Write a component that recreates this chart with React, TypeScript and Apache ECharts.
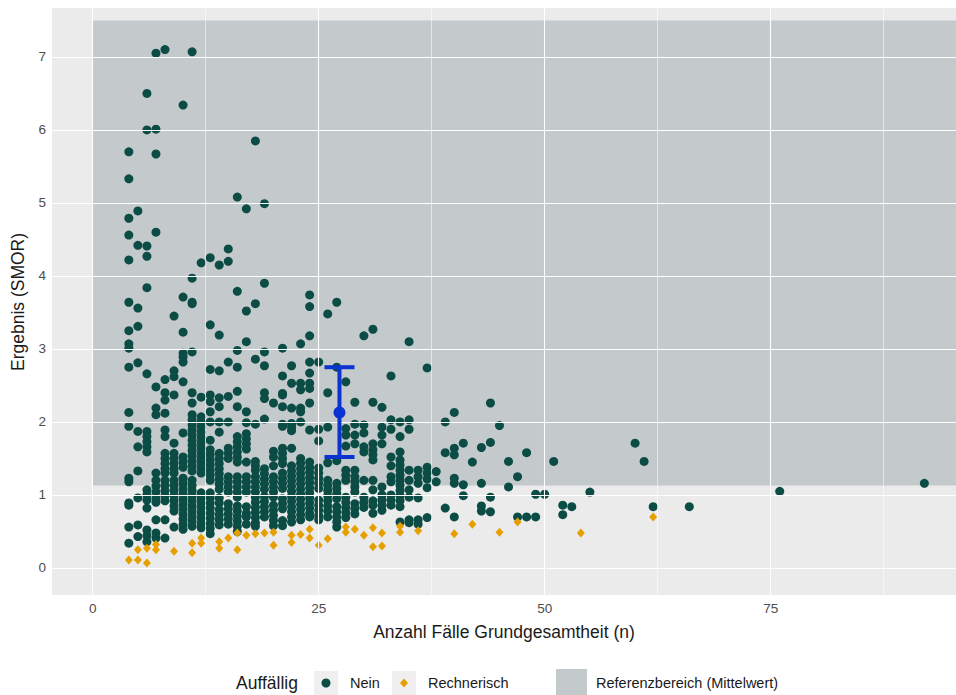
import React, { useEffect, useRef } from "react";
import * as echarts from "echarts";

// ---------- data ----------
const xTickValues = [0, 25, 50, 75];
const xGridMajor = [0, 25, 50, 75];
const xGridMinor = [12.5, 37.5, 62.5, 87.5];
const yTickValues = [0, 1, 2, 3, 4, 5, 6, 7];

// reference band (Referenzbereich): x from..to, y from..to
const refX = [0, 95.5];
const refY = [1.13, 7.5];

// mean with interval: [n, mean, lower, upper]
const meanInterval = [27.3, 2.13, 1.52, 2.75];

// "Nein" points, grouped by n (Anzahl Fälle)
const neinA: [number, number[]][] = [
  [4, [5.7, 5.33, 4.79, 4.56, 4.22, 3.64, 3.25, 3.07, 3.01, 2.75, 2.13, 1.94, 1.23, 1.18, 0.89, 0.86, 0.56, 0.34]],
  [5, [4.89, 4.42, 3.56, 3.31, 2.81, 1.87, 1.66, 1.33, 0.96, 0.59, 0.43]],
  [6, [6.5, 6.0, 4.41, 4.27, 3.84, 2.66, 1.87, 1.8, 1.73, 1.66, 1.59, 1.07, 1.0, 0.93, 0.82, 0.52, 0.44, 0.36]],
  [7, [7.05, 6.01, 5.67, 4.6, 2.48, 2.19, 2.1, 1.3, 1.2, 1.12, 1.04, 0.96, 0.9, 0.66, 0.48, 0.41]],
  [8, [7.1, 2.58, 2.4, 2.3, 2.12, 1.89, 1.8, 1.57, 1.5, 1.43, 1.36, 1.3, 1.2, 1.13, 1.06, 0.99, 0.92, 0.66, 0.41]],
  [9, [3.45, 2.7, 2.62, 2.37, 1.71, 1.57, 1.5, 1.43, 1.36, 1.3, 1.2, 1.13, 1.06, 0.99, 0.92, 0.85, 0.78, 0.56]],
  [10, [6.34, 3.71, 3.23, 2.94, 2.89, 2.82, 2.55, 1.85, 1.52, 1.45, 1.38, 1.23, 1.16, 1.09, 1.02, 0.95, 0.88, 0.81, 0.74, 0.67, 0.6, 0.53]],
  [11, [7.07, 3.97, 3.64, 3.62, 2.96, 2.4, 2.26, 2.1, 2.03, 1.96, 1.89, 1.82, 1.75, 1.68, 1.61, 1.54, 1.47, 1.4, 1.33, 1.2, 1.13, 1.06, 0.99, 0.92, 0.85, 0.78, 0.71, 0.64, 0.57]],
  [12, [4.18, 2.34, 2.07, 2.0, 1.93, 1.86, 1.79, 1.72, 1.65, 1.58, 1.51, 1.44, 1.37, 1.3, 1.03, 0.96, 0.89, 0.82, 0.75, 0.68, 0.61, 0.55]],
];
const neinB: [number, number[]][] = [
  [13, [4.25, 3.33, 2.72, 2.37, 2.28, 2.14, 2.0, 1.75, 1.62, 1.55, 1.48, 1.41, 1.34, 1.27, 1.2, 1.03, 0.96, 0.89, 0.82, 0.75, 0.68, 0.61, 0.54, 0.47]],
  [14, [4.15, 3.19, 2.7, 2.33, 2.21, 2.0, 1.86, 1.57, 1.5, 1.43, 1.36, 1.29, 1.22, 1.15, 1.08, 0.96, 0.89, 0.8, 0.73, 0.66, 0.59]],
  [15, [4.37, 4.2, 2.82, 2.35, 2.0, 1.64, 1.57, 1.5, 1.25, 1.18, 1.11, 1.04, 0.88, 0.81, 0.74, 0.67, 0.6]],
  [16, [5.08, 3.79, 2.98, 2.75, 2.42, 2.21, 1.8, 1.73, 1.66, 1.59, 1.52, 1.45, 1.25, 1.18, 1.11, 1.04, 0.97, 0.85, 0.78, 0.71, 0.64, 0.57, 0.5]],
  [17, [4.92, 3.52, 3.1, 2.14, 1.99, 1.84, 1.77, 1.7, 1.63, 1.45, 1.25, 1.18, 1.11, 1.04, 0.84, 0.75, 0.7, 0.6]],
  [18, [5.85, 3.62, 2.86, 1.97, 1.46, 1.4, 1.34, 1.25, 1.18, 1.11, 1.04, 0.97, 0.9, 0.83, 0.76, 0.69, 0.62, 0.57]],
  [19, [4.99, 3.9, 2.96, 2.77, 2.4, 2.32, 2.04, 1.36, 1.29, 1.22, 1.15, 1.08, 0.98, 0.91, 0.84, 0.77, 0.7]],
  [20, [2.26, 1.6, 1.52, 1.4, 1.25, 1.18, 1.11, 1.04, 0.97, 0.86, 0.79, 0.72, 0.65, 0.58]],
  [21, [3.01, 2.63, 2.39, 2.37, 2.21, 1.97, 1.94, 1.64, 1.57, 1.5, 1.43, 1.3, 1.23, 1.16, 1.09, 0.95, 0.88, 0.81, 0.65, 0.58]],
  [22, [2.77, 2.53, 2.19, 1.98, 1.93, 1.88, 1.64, 1.4, 1.33, 1.26, 1.19, 1.12, 1.05, 0.98, 0.91, 0.84, 0.77, 0.7, 0.63]],
  [23, [3.07, 2.53, 2.44, 2.19, 2.14, 2.0, 1.5, 1.43, 1.36, 1.29, 1.22, 1.15, 1.08, 1.01, 0.94, 0.87, 0.8, 0.73, 0.66]],
  [24, [3.74, 3.58, 3.18, 2.82, 2.67, 2.53, 2.46, 2.26, 1.89, 1.45, 1.38, 1.31, 1.24, 1.17, 1.1, 1.03, 0.96, 0.89, 0.82, 0.75, 0.7]],
];
const neinC: [number, number[]][] = [
  [25, [2.82, 1.9, 1.74, 1.37, 1.3, 1.23, 1.16, 1.09, 0.93, 0.86, 0.79, 0.72, 0.66]],
  [26, [3.48, 2.4, 1.93, 1.44, 1.2, 1.13, 1.06, 0.99, 0.92, 0.85, 0.78, 0.7]],
  [27, [3.64, 2.75, 1.47, 1.16, 1.09, 1.02, 0.95, 0.84, 0.77, 0.7, 0.63, 0.56]],
  [28, [2.55, 1.91, 1.82, 1.67, 1.34, 1.27, 1.2, 0.97, 0.9, 0.83, 0.76, 0.69]],
  [29, [2.27, 1.97, 1.82, 1.7, 1.34, 1.25, 1.18, 1.11, 1.04, 0.88, 0.81, 0.74]],
  [30, [3.18, 1.96, 1.85, 1.66, 1.59, 1.2, 0.97, 0.9, 0.83]],
  [31, [3.27, 2.27, 1.7, 1.62, 1.55, 1.48, 1.2, 1.07, 0.92, 0.86, 0.75]],
  [32, [2.2, 1.93, 1.82, 1.7, 1.11, 1.0, 0.93, 0.86, 0.79]],
  [33, [2.63, 2.03, 1.9, 1.52, 1.4, 1.25, 1.18, 1.0, 0.93, 0.86]],
  [34, [2.0, 1.8, 1.59, 1.48, 1.41, 1.34, 1.27, 1.2, 1.13, 1.06, 0.99, 0.92, 0.84, 0.63]],
  [35, [3.1, 2.03, 1.9, 1.34, 1.2, 1.07, 0.97, 0.66, 0.62]],
  [36, [1.34, 1.25, 1.16, 0.96, 0.66, 0.6]],
  [37, [2.74, 1.38, 1.3, 1.22, 1.1, 0.69]],
];
const neinD: [number, number[]][] = [
  [38, [1.32, 1.18]],
  [39, [2.0, 1.58, 0.82]],
  [40, [2.13, 1.64, 1.55, 1.23, 1.16, 0.7]],
  [41, [1.71, 1.14, 0.99]],
  [42, [1.45]],
  [43, [1.65, 1.16, 0.85, 0.78]],
  [44, [2.26, 1.72, 0.97, 0.77]],
  [45, [1.95]],
  [46, [1.46, 1.11]],
  [47, [1.25, 0.7]],
  [48, [1.58, 0.7]],
  [49, [1.01, 0.7]],
  [50, [1.01]],
  [51, [1.46]],
  [52, [0.86, 0.73]],
  [53, [0.84]],
  [55, [1.04]],
  [60, [1.71]],
  [61, [1.46]],
  [62, [0.84]],
  [66, [0.84]],
  [76, [1.05]],
  [92, [1.16]],
];

// "Rechnerisch" points [n, value]
const rechnerisch: [number, number][] = [
  [4, 0.11], [5, 0.25], [5, 0.11], [6, 0.27], [6, 0.07], [7, 0.32], [7, 0.25], [9, 0.23],
  [11, 0.34], [11, 0.21], [12, 0.41], [12, 0.34], [14, 0.36], [14, 0.27], [15, 0.41],
  [16, 0.48], [16, 0.25], [17, 0.45], [18, 0.47], [19, 0.48], [20, 0.49], [20, 0.31],
  [22, 0.45], [22, 0.35], [23, 0.46], [24, 0.53], [24, 0.41], [25, 0.31], [26, 0.4],
  [28, 0.56], [28, 0.49], [29, 0.53], [30, 0.45], [31, 0.55], [31, 0.29], [32, 0.48],
  [32, 0.3], [34, 0.57], [34, 0.49], [36, 0.51], [40, 0.47], [42, 0.6], [45, 0.49],
  [47, 0.63], [54, 0.48], [62, 0.7],
];

// ---------- styling ----------
const FONT = "'Liberation Sans', Arial, Helvetica, sans-serif";
const GREEN = "#0b4c45";
const ORANGE = "#e69f00";
const BLUE = "#0a33d1";
const BAND = "rgba(40,65,80,0.2)";
const BAND_SOLID = "#c4c9cc";
const PANEL = "#ebebeb";
const TITLE_SIZE = 17.5;
const TICK_SIZE = 13.5;
const LEGEND_SIZE = 14.5;

function flatten(groups: [number, number[]][][]): [number, number][] {
  const out: [number, number][] = [];
  groups.forEach((g) => g.forEach(([n, ys]) => ys.forEach((y) => out.push([n, y]))));
  return out;
}

export default function App() {
  const ref = useRef<HTMLDivElement>(null);

  useEffect(() => {
    if (!ref.current) return;
    const chart = echarts.init(ref.current, undefined, { renderer: "svg" });
    const neinData = flatten([neinA, neinB, neinC, neinD]);

    const gridLines = [
      ...xGridMajor.map((v) => ({ xAxis: v, lineStyle: { color: "#ffffff", width: 1.1, type: "solid" } })),
      ...xGridMinor.map((v) => ({ xAxis: v, lineStyle: { color: "#ffffff", width: 0.55, type: "solid" } })),
      ...yTickValues.map((v) => ({ yAxis: v, lineStyle: { color: "#ffffff", width: 1.1, type: "solid" } })),
    ];

    const option: any = {
      animation: false,
      backgroundColor: "#ffffff",
      textStyle: { fontFamily: FONT },
      grid: {
        left: 52,
        right: 0,
        top: 8,
        bottom: 100,
        show: true,
        backgroundColor: PANEL,
        borderWidth: 0,
      },
      xAxis: {
        type: "value",
        min: -4.5,
        max: 95.5,
        axisLine: { show: false },
        axisTick: { show: true, customValues: xTickValues, length: 4, lineStyle: { color: "#333333", width: 1 } },
        axisLabel: { customValues: xTickValues, color: "#4d4d4d", fontSize: TICK_SIZE, margin: 6, fontFamily: FONT },
        splitLine: { show: false },
      },
      yAxis: {
        type: "value",
        min: -0.37,
        max: 7.67,
        axisLine: { show: false },
        axisTick: { show: true, customValues: yTickValues, length: 4, lineStyle: { color: "#333333", width: 1 } },
        axisLabel: { customValues: yTickValues, color: "#4d4d4d", fontSize: TICK_SIZE, margin: 6, fontFamily: FONT },
        splitLine: { show: false },
      },
      graphic: [
        {
          type: "text",
          x: 504,
          y: 632,
          style: {
            text: "Anzahl Fälle Grundgesamtheit (n)",
            fontSize: TITLE_SIZE,
            fontFamily: FONT,
            fill: "#1a1a1a",
            textAlign: "center",
            textVerticalAlign: "middle",
          },
        },
        {
          type: "text",
          x: 18,
          y: 302,
          rotation: Math.PI / 2,
          style: {
            text: "Ergebnis (SMOR)",
            fontSize: TITLE_SIZE,
            fontFamily: FONT,
            fill: "#1a1a1a",
            textAlign: "center",
            textVerticalAlign: "middle",
          },
        },
        // legend
        {
          type: "text",
          x: 236,
          y: 683,
          style: { text: "Auffällig", fontSize: TITLE_SIZE, fontFamily: FONT, fill: "#1a1a1a", textVerticalAlign: "middle" },
        },
        { type: "rect", shape: { x: 314, y: 671, width: 24, height: 24 }, style: { fill: "#efefef" } },
        { type: "circle", shape: { cx: 326, cy: 683, r: 4.5 }, style: { fill: GREEN } },
        {
          type: "text",
          x: 350,
          y: 683,
          style: { text: "Nein", fontSize: LEGEND_SIZE, fontFamily: FONT, fill: "#1a1a1a", textVerticalAlign: "middle" },
        },
        { type: "rect", shape: { x: 392, y: 671, width: 24, height: 24 }, style: { fill: "#efefef" } },
        {
          type: "polygon",
          shape: { points: [[404, 678.5], [408, 683], [404, 687.5], [400, 683]] },
          style: { fill: ORANGE },
        },
        {
          type: "text",
          x: 428,
          y: 683,
          style: { text: "Rechnerisch", fontSize: LEGEND_SIZE, fontFamily: FONT, fill: "#1a1a1a", textVerticalAlign: "middle" },
        },
        { type: "rect", shape: { x: 556, y: 669, width: 31, height: 30 }, style: { fill: BAND_SOLID } },
        {
          type: "text",
          x: 596,
          y: 683,
          style: {
            text: "Referenzbereich (Mittelwert)",
            fontSize: LEGEND_SIZE,
            fontFamily: FONT,
            fill: "#1a1a1a",
            textVerticalAlign: "middle",
          },
        },
      ],
      series: [
        {
          name: "grid",
          type: "line",
          data: [],
          z: 1,
          silent: true,
          markLine: {
            silent: true,
            symbol: ["none", "none"],
            label: { show: false },
            emphasis: { disabled: true },
            data: gridLines,
          },
        },
        {
          name: "Referenzbereich (Mittelwert)",
          type: "line",
          data: [],
          z: 2,
          silent: true,
          markArea: {
            silent: true,
            itemStyle: { color: BAND },
            emphasis: { disabled: true },
            data: [[{ xAxis: refX[0], yAxis: refY[0] }, { xAxis: refX[1], yAxis: refY[1] }]],
          },
        },
        {
          name: "Nein",
          type: "scatter",
          z: 3,
          symbol: "circle",
          symbolSize: 9,
          itemStyle: { color: GREEN, opacity: 1 },
          data: neinData,
        },
        {
          name: "Rechnerisch",
          type: "scatter",
          z: 4,
          symbol: "diamond",
          symbolSize: [8, 9],
          itemStyle: { color: ORANGE, opacity: 1 },
          data: rechnerisch,
        },
        {
          name: "Mittelwert",
          type: "custom",
          z: 5,
          data: [meanInterval],
          renderItem: (params: any, api: any) => {
            const x = api.value(0);
            const mid = api.coord([x, api.value(1)]);
            const lo = api.coord([x, api.value(2)]);
            const hi = api.coord([x, api.value(3)]);
            const half = 15;
            const lineStyle = { stroke: BLUE, lineWidth: 4, lineCap: "butt" };
            return {
              type: "group",
              children: [
                { type: "line", shape: { x1: lo[0], y1: lo[1], x2: hi[0], y2: hi[1] }, style: lineStyle },
                { type: "line", shape: { x1: hi[0] - half, y1: hi[1], x2: hi[0] + half, y2: hi[1] }, style: lineStyle },
                { type: "line", shape: { x1: lo[0] - half, y1: lo[1], x2: lo[0] + half, y2: lo[1] }, style: lineStyle },
                { type: "circle", shape: { cx: mid[0], cy: mid[1], r: 6 }, style: { fill: BLUE } },
              ],
            };
          },
        },
      ],
    };

    chart.setOption(option);
    return () => chart.dispose();
  }, []);

  return (
    <div
      ref={ref}
      style={{ position: "absolute", left: 0, top: 0, width: 956, height: 695, background: "#ffffff" }}
    />
  );
}
